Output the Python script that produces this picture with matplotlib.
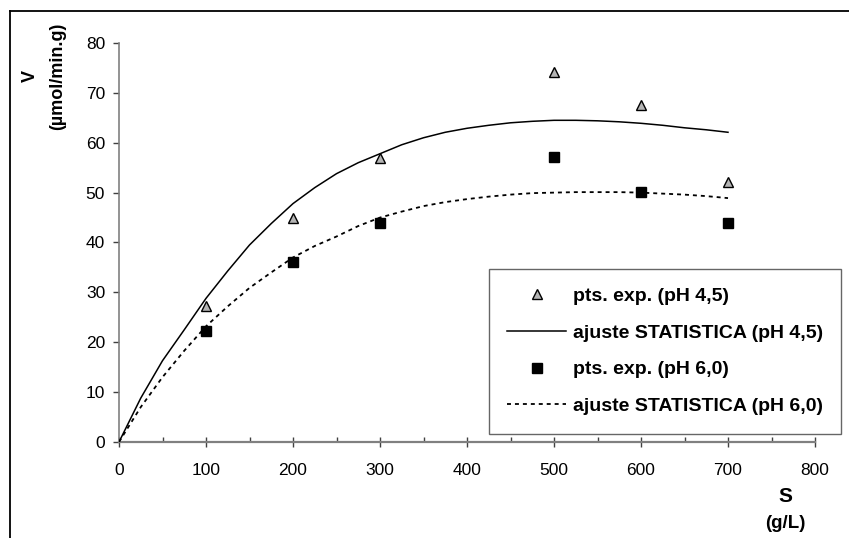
import matplotlib
matplotlib.use("Agg")
import matplotlib.pyplot as plt
from matplotlib.lines import Line2D
from matplotlib.ticker import MultipleLocator

plt.rcParams['font.family'] = ['Liberation Sans', 'DejaVu Sans']

# experimental points
s_exp = [100, 200, 300, 500, 600, 700]
v_ph45 = [27.3, 45.0, 57.0, 74.1, 67.5, 52.1]
v_ph60 = [22.2, 36.0, 44.0, 57.1, 50.1, 44.0]

# fitted curves
s_fit = [0, 25, 50, 75, 100, 125, 150, 175, 200, 225, 250, 275, 300, 325, 350,
         375, 400, 425, 450, 475, 500, 525, 550, 575, 600, 625, 650, 675, 700]
fit_ph45 = [0, 8.8, 16.3, 22.5, 28.8, 34.3, 39.5, 43.8, 47.8, 51.0, 53.8, 56.0,
            57.8, 59.6, 61.0, 62.1, 62.9, 63.5, 64.0, 64.3, 64.5, 64.5, 64.4,
            64.2, 63.9, 63.5, 63.0, 62.6, 62.1]
fit_ph60 = [0, 7.0, 13.0, 18.3, 23.2, 27.2, 30.9, 34.0, 37.0, 39.3, 41.2, 43.3,
            45.0, 46.2, 47.3, 48.1, 48.7, 49.2, 49.6, 49.9, 50.0, 50.1, 50.1,
            50.1, 50.0, 49.8, 49.6, 49.3, 48.9]

labels = ["pts. exp. (pH 4,5)", "ajuste STATISTICA (pH 4,5)",
          "pts. exp. (pH 6,0)", "ajuste STATISTICA (pH 6,0)"]

W, H = 849, 538
fig = plt.figure(figsize=(W / 100, H / 100), dpi=100)
ax = fig.add_axes([119 / W, 1 - 442 / H, (815 - 119) / W, (442 - 43) / H])

h1, = ax.plot(s_exp, v_ph45, linestyle='none', marker='^', ms=7.5,
              mfc='#b4b4b4', mec='black', mew=1.0, zorder=4)
h2, = ax.plot(s_fit, fit_ph45, color='black', lw=1.1, zorder=3)
h3, = ax.plot(s_exp, v_ph60, linestyle='none', marker='s', ms=6.5,
              mfc='black', mec='black', zorder=4)
h4, = ax.plot(s_fit, fit_ph60, color='black', lw=1.3, linestyle=(0, (2.2, 2.2)),
              zorder=3)

ax.set_xlim(0, 800)
ax.set_ylim(0, 80)
ax.xaxis.set_major_locator(MultipleLocator(100))
ax.xaxis.set_minor_locator(MultipleLocator(50))
ax.yaxis.set_major_locator(MultipleLocator(10))

for side in ('top', 'right'):
    ax.spines[side].set_visible(False)
ax.spines['bottom'].set_color('#808080')
ax.spines['bottom'].set_linewidth(1.6)
ax.spines['left'].set_color('#808080')
ax.spines['left'].set_linewidth(1.2)

ax.tick_params(axis='x', which='major', direction='inout', length=7,
               width=1.0, color='#404040', pad=11.5, labelsize=12.5)
ax.tick_params(axis='x', which='minor', direction='in', length=3.5,
               width=1.0, color='#404040')
ax.tick_params(axis='y', which='major', direction='out', length=4,
               width=1.0, color='#404040', pad=6, labelsize=12.5)

leg = ax.legend([h1, h2, h3, h4], labels, loc='upper left',
                bbox_to_anchor=(489 / W, 1 - 269 / H), bbox_transform=fig.transFigure,
                borderaxespad=0.0,
                prop={'weight': 'bold', 'size': 14}, frameon=True, fancybox=False,
                edgecolor='#404040', handlelength=3.0, handletextpad=0.36,
                labelspacing=0.98, borderpad=0.95, numpoints=1)
leg.get_frame().set_linewidth(1.0)

# axis labels
fig.text(30 / W, 1 - 76 / H, "V", rotation=90, ha='center', va='center',
         fontsize=13, fontweight='bold')
fig.text(58 / W, 1 - 76 / H, "(µmol/min.g)", rotation=90, ha='center',
         va='center', fontsize=13, fontweight='bold')
fig.text(785 / W, 1 - 497 / H, "S", ha='center', va='center', fontsize=15,
         fontweight='bold')
fig.text(785 / W, 1 - 524 / H, "(g/L)", ha='center', va='center', fontsize=13.5,
         fontweight='bold')

# outer frame (top and left edges)
fig.add_artist(Line2D([10 / W, 1.0], [1 - 11 / H, 1 - 11 / H],
                      transform=fig.transFigure, color='black', lw=1.3))
fig.add_artist(Line2D([10 / W, 10 / W], [1 - 11 / H, 0.0],
                      transform=fig.transFigure, color='black', lw=1.3))

fig.savefig("out.png", dpi=100)
